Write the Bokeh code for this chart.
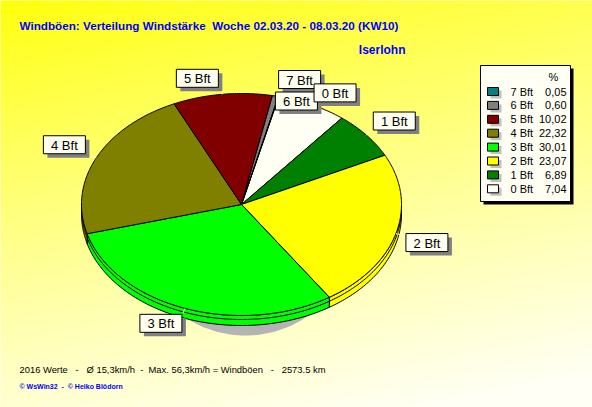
import numpy as np
from bokeh.plotting import figure
from bokeh.models import Range1d
from bokeh.embed import file_html
from bokeh.resources import INLINE
from bokeh.core.properties import value

# Gust distribution by Beaufort class, week 02.03.20 - 08.03.20
classes = ["0 Bft", "1 Bft", "2 Bft", "3 Bft", "4 Bft", "5 Bft", "6 Bft", "7 Bft"]
shares = [7.04, 6.89, 23.07, 30.01, 22.32, 10.02, 0.60, 0.05]
slice_colors = ["#FFFFF4", "#008000", "#FFFF00", "#00FF00",
                "#808000", "#800000", "#808080", "#008080"]

title_text = "Windböen: Verteilung Windstärke  Woche 02.03.20 - 08.03.20 (KW10)"
station = "Iserlohn"
summary = "2016 Werte   -   Ø 15,3km/h  -  Max. 56,3km/h = Windböen   -   2573.5 km"
credits = "© WsWin32  -  © Heiko Blödorn"


def keep_spaces(s):
    # SVG collapses runs of blanks; keep them with no-break spaces
    return s.replace("  ", "\u00a0\u00a0")


W, H = 592, 407
FONT = "Liberation Sans"

# pie geometry (pixel space, y downwards)
CX, CY, RX, RY, DEPTH = 241.0, 204.0, 160.0, 111.0, 10.0
START = 13.5  # degrees, clockwise from 12 o'clock

# label box placement relative to the rim point at each slice's mid angle
label_offsets = [(23, -12), (28, -14), (31, 9), (-24, 15),
                 (-32, -13), (-25, -16), (21, 5), (21, -17)]


def rim(theta, dy=0.0):
    t = np.radians(theta)
    return CX + RX * np.sin(t), CY - RY * np.cos(t) + dy


p = figure(width=W, height=H, x_range=Range1d(0, W), y_range=Range1d(H, 0),
           output_backend="svg", toolbar_location=None, min_border=0)
p.axis.visible = False
p.grid.visible = False
p.outline_line_color = None
p.background_fill_color = "#FFFFF0"
p.border_fill_color = "#FFFFF0"

# diagonal yellow -> cream background
slope = 0.2
cmax = slope * W + H
nb = 80
bx, by, bc = [], [], []
for i in range(nb):
    c0 = cmax * i / nb
    c1 = cmax * (i + 1) / nb + 1
    t = (i + 0.5) / nb
    b = int(min(245, 8 + 250 * t ** 0.85))
    bx.append([-5, W + 5, W + 5, -5])
    by.append([c0 + 5 * slope, c0 - slope * (W + 5), c1 - slope * (W + 5), c1 + 5 * slope])
    bc.append("#FFFF%02X" % b)
p.patches(bx, by, fill_color=bc, line_color=None)

# slice angles
bounds = START + 360.0 * np.concatenate([[0], np.cumsum(shares)]) / sum(shares)
mids = (bounds[:-1] + bounds[1:]) / 2

# drop shadow under the pie
th = np.linspace(0, 360, 181)
sx = 245 + 110 * np.sin(np.radians(th))
sy = 225 - 110 * np.cos(np.radians(th))
p.patch(sx, sy, fill_color="#B4B4B4", line_color=None)

# side wall (front half only)
for a0, a1, col in zip(bounds[:-1], bounds[1:], slice_colors):
    lo, hi = max(a0, 90.0), min(a1, 270.0)
    if hi <= lo:
        continue
    arc = np.linspace(lo, hi, 60)
    tx, ty = rim(arc)
    ux, uy = rim(arc[::-1], DEPTH)
    p.patch(np.concatenate([tx, ux]), np.concatenate([ty, uy]),
            fill_color=col, line_color="black", line_width=1)
    mx, my = rim(arc, 4.0)
    p.line(mx, my, line_color="black", line_width=1)

# top faces
for a0, a1, col in zip(bounds[:-1], bounds[1:], slice_colors):
    arc = np.linspace(a0, a1, max(3, int((a1 - a0) * 1.5)))
    tx, ty = rim(arc)
    p.patch(np.concatenate([[CX], tx]), np.concatenate([[CY], ty]),
            fill_color=col, line_color="black", line_width=1)

# slice labels, highest class first so the small-slice boxes stack correctly
BW, BH = 42, 18
for k in range(len(classes) - 1, -1, -1):
    name, m, (ox, oy) = classes[k], mids[k], label_offsets[k]
    ex, ey = rim(m)
    lx, ly = ex + ox, ey + oy
    dx, dy = np.sin(np.radians(m)), -np.cos(np.radians(m))
    p.segment(x0=[ex], y0=[ey], x1=[ex + 5 * dx], y1=[ey + 5 * dy],
              line_color="white", line_width=1)
    p.quad(left=[lx - BW / 2 + 4], right=[lx + BW / 2 + 4],
           top=[ly - BH / 2 + 4], bottom=[ly + BH / 2 + 4],
           fill_color="#808080", line_color=None)
    p.quad(left=[lx - BW / 2], right=[lx + BW / 2],
           top=[ly - BH / 2], bottom=[ly + BH / 2],
           fill_color="#FFFFF0", line_color="black", line_width=1)
    p.text(x=[lx], y=[ly + 0.5], text=[name], text_font=value(FONT),
           text_font_size="13px", text_align="center", text_baseline="middle",
           text_color="black")

# legend
LX0, LX1, LY0, LY1 = 480, 570, 65, 201
p.quad(left=[LX0 + 3], right=[LX1 + 3], top=[LY0 + 3], bottom=[LY1 + 3],
       fill_color="black", line_color=None)
p.quad(left=[LX0], right=[LX1], top=[LY0], bottom=[LY1],
       fill_color="#FFFFF4", line_color="black", line_width=1)
p.text(x=[553], y=[76], text=["%"], text_font=value(FONT), text_font_size="11px",
       text_align="center", text_baseline="middle", text_color="black")
order = list(range(len(classes)))[::-1]
for row, k in enumerate(order):
    yy = 91 + row * 13.9
    p.quad(left=[490], right=[501], top=[yy - 1], bottom=[yy + 7],
           fill_color="#C0C0C0", line_color=None)
    p.quad(left=[487], right=[498], top=[yy - 4], bottom=[yy + 4],
           fill_color=slice_colors[k], line_color="black", line_width=1)
    p.text(x=[510], y=[yy], text=[classes[k]], text_font=value(FONT),
           text_font_size="11px", text_align="left", text_baseline="middle",
           text_color="black")
    p.text(x=[566], y=[yy], text=[("%.2f" % shares[k]).replace(".", ",")],
           text_font=value(FONT), text_font_size="11px", text_align="right",
           text_baseline="middle", text_color="black")

# titles and footer
p.text(x=[19], y=[25], text=[keep_spaces(title_text)], text_font=value(FONT),
       text_font_size="11.7px", text_font_style="bold", text_align="left",
       text_baseline="middle", text_color="#0000FF")
p.text(x=[405], y=[49], text=[station], text_font=value(FONT), text_font_size="12px",
       text_font_style="bold", text_align="right", text_baseline="middle",
       text_color="#0000FF")
p.text(x=[19], y=[369], text=[keep_spaces(summary)], text_font=value(FONT),
       text_font_size="9.4px", text_align="left", text_baseline="middle",
       text_color="black")
p.text(x=[19], y=[386], text=[keep_spaces(credits)], text_font=value(FONT),
       text_font_size="7px", text_font_style="bold", text_align="left",
       text_baseline="middle", text_color="#0000FF")

open("out.html", "w").write(file_html(p, INLINE))
